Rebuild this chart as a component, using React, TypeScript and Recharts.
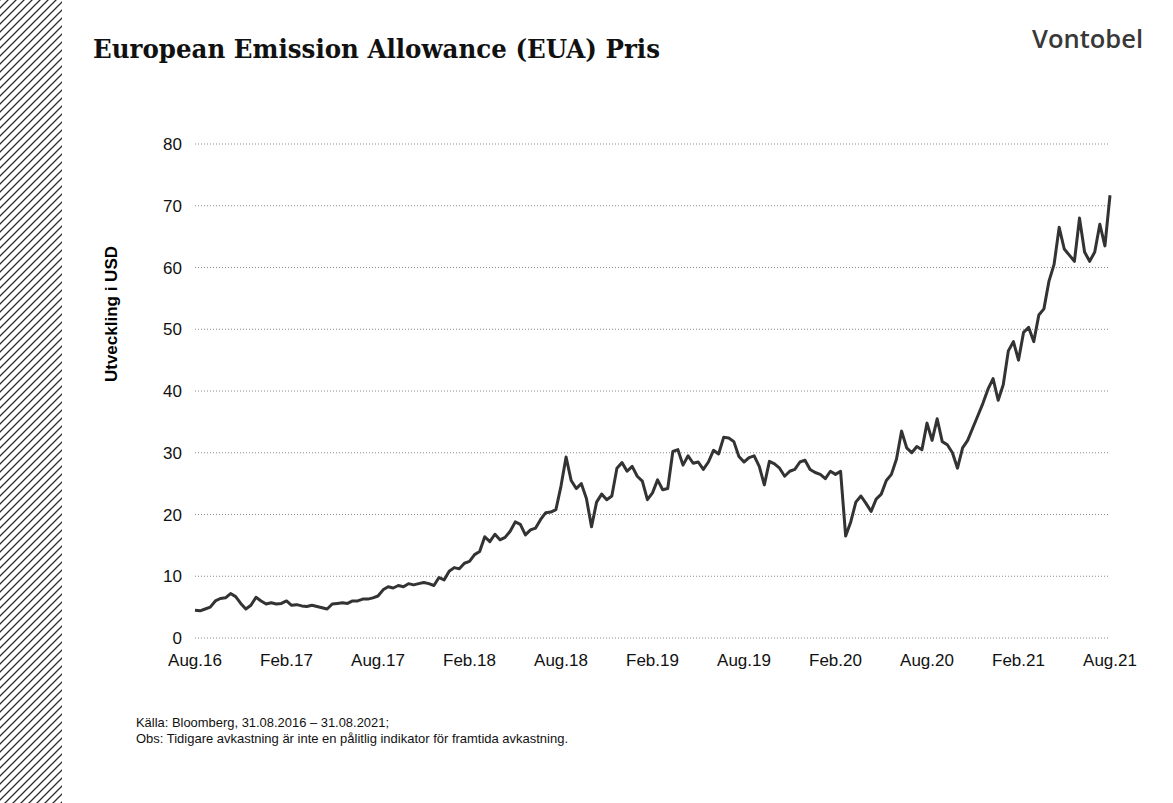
import React from 'react';
import { LineChart, Line, XAxis, YAxis, CartesianGrid } from 'recharts';

const title = 'European Emission Allowance (EUA) Pris';
const yAxisTitle = 'Utveckling i USD';
const sourceNote = 'Källa: Bloomberg, 31.08.2016 – 31.08.2021;';
const disclaimer = 'Obs: Tidigare avkastning är inte en pålitlig indikator för framtida avkastning.';

const xTickLabels = ['Aug.16', 'Feb.17', 'Aug.17', 'Feb.18', 'Aug.18', 'Feb.19', 'Aug.19', 'Feb.20', 'Aug.20', 'Feb.21', 'Aug.21'];
const xTickMonths = [0, 6, 12, 18, 24, 30, 36, 42, 48, 54, 60];
const yTicks = [0, 10, 20, 30, 40, 50, 60, 70, 80];

// one value every 1/3 month, starting 31.08.2016
const stepMonths = 1 / 3;
const prices = [
  4.5, 4.4, 4.7, 5.0, 6.0, 6.4, 6.5, 7.2, 6.7, 5.6,
  4.7, 5.3, 6.6, 6.0, 5.5, 5.7, 5.5, 5.6, 6.0, 5.3,
  5.4, 5.2, 5.1, 5.3, 5.1, 4.9, 4.7, 5.5, 5.6, 5.7,
  5.6, 6.0, 6.0, 6.3, 6.3, 6.5, 6.8, 7.8, 8.3, 8.1,
  8.5, 8.3, 8.8, 8.6, 8.8, 9.0, 8.8, 8.5, 9.8, 9.4,
  10.8, 11.4, 11.2, 12.1, 12.4, 13.5, 14.0, 16.4, 15.6, 16.8,
  15.9, 16.3, 17.3, 18.8, 18.4, 16.7, 17.5, 17.8, 19.2, 20.3,
  20.4, 20.8, 24.6, 29.3, 25.5, 24.2, 25.0, 22.6, 18.0, 22.0,
  23.3, 22.4, 23.0, 27.5, 28.4, 27.0, 27.8, 26.2, 25.4, 22.4,
  23.5, 25.6, 24.0, 24.2, 30.2, 30.5, 28.0, 29.5, 28.3, 28.5,
  27.3, 28.5, 30.4, 29.8, 32.5, 32.4, 31.8, 29.4, 28.5, 29.2,
  29.5, 27.8, 24.8, 28.6, 28.2, 27.5, 26.2, 27.0, 27.3, 28.5,
  28.8, 27.3, 26.8, 26.5, 25.8, 27.0, 26.5, 27.0, 16.5, 18.8,
  22.0, 23.0, 21.8, 20.5, 22.5, 23.3, 25.5, 26.5, 29.0, 33.5,
  30.8, 30.0, 31.0, 30.5, 34.8, 32.0, 35.5, 31.8, 31.3, 30.0,
  27.5, 30.8, 32.0, 34.0, 36.0, 38.0, 40.3, 42.0, 38.5, 41.0,
  46.5, 48.0, 45.0, 49.5, 50.3, 48.0, 52.3, 53.3, 57.8, 60.5,
  66.5, 63.0, 62.0, 61.0, 68.0, 62.5, 61.0, 62.5, 67.0, 63.5, 71.7,
];

const data = prices.map((p, i) => ({ m: i * stepMonths, p }));

const W = 1173;
const H = 803;
const sans = '"Liberation Sans", Arial, Helvetica, sans-serif';

export default function App() {
  return (
    <div style={{ position: 'absolute', left: 0, top: 0, width: W, height: H, background: '#fff', overflow: 'hidden' }}>
      <div style={{ position: 'absolute', left: 0, top: 0 }}>
        <LineChart width={W} height={H} data={data} margin={{ top: 144, right: 63, bottom: 135, left: 135 }}>
          <CartesianGrid vertical={false} stroke="#8a8a8a" strokeDasharray="1 2" />
          <XAxis
            dataKey="m"
            type="number"
            domain={[0, 60]}
            ticks={xTickMonths}
            tickFormatter={(v: number) => xTickLabels[xTickMonths.indexOf(v)]}
            axisLine={false}
            tickLine={false}
            tickMargin={10}
            height={30}
            interval={0}
            tick={{ fill: '#111', fontSize: 17, fontFamily: sans }}
          />
          <YAxis
            type="number"
            domain={[0, 80]}
            ticks={yTicks}
            axisLine={false}
            tickLine={false}
            tickMargin={7}
            width={60}
            interval={0}
            tick={{ fill: '#111', fontSize: 17, fontFamily: sans }}
          />
          <Line
            type="linear"
            dataKey="p"
            stroke="#333333"
            strokeWidth={3}
            dot={false}
            isAnimationActive={false}
            strokeLinejoin="round"
          />
        </LineChart>
      </div>
      <svg width={W} height={H} style={{ position: 'absolute', left: 0, top: 0, pointerEvents: 'none' }}>
        <defs>
          <pattern id="hatch" width="8" height="8" patternUnits="userSpaceOnUse">
            <path d="M-2,2 L2,-2 M0,8 L8,0 M6,10 L10,6" stroke="#2e2e2e" strokeWidth="1.3" />
          </pattern>
        </defs>
        <rect x={0} y={0} width={62} height={H} fill="url(#hatch)" />
        <text
          x={93}
          y={58}
          fontFamily='"DejaVu Serif", "Liberation Serif", Georgia, serif'
          fontWeight="bold"
          fontSize={26}
          fill="#111"
          textLength={567}
          lengthAdjust="spacingAndGlyphs"
        >
          {title}
        </text>
        <text
          x={1032}
          y={48}
          fontFamily='"Open Sans", Inter, sans-serif'
          fontWeight={600}
          fontSize={25}
          fill="#383838"
          textLength={111}
          lengthAdjust="spacingAndGlyphs"
        >
          Vontobel
        </text>
        <text
          x={117}
          y={314}
          transform="rotate(-90 117 314)"
          textAnchor="middle"
          fontFamily={sans}
          fontWeight="bold"
          fontSize={17}
          fill="#000"
        >
          {yAxisTitle}
        </text>
        <text x={136} y={727} fontFamily={sans} fontSize={13} fill="#111" textLength={253} lengthAdjust="spacingAndGlyphs">
          {sourceNote}
        </text>
        <text x={136} y={743} fontFamily={sans} fontSize={13} fill="#111" textLength={432} lengthAdjust="spacingAndGlyphs">
          {disclaimer}
        </text>
      </svg>
    </div>
  );
}
